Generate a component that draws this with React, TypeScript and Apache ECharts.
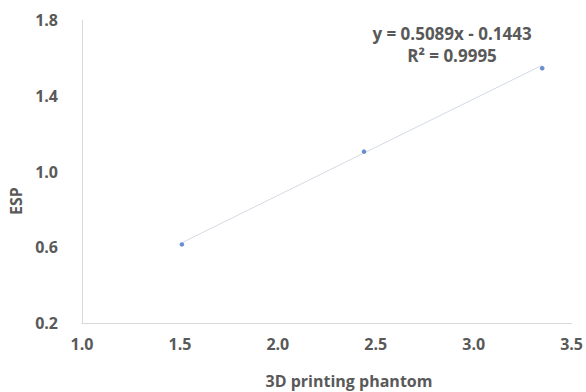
import React, { useEffect, useRef } from "react";
import * as echarts from "echarts";

const pointsX = [1.51, 2.44, 3.35];
const pointsY = [0.615, 1.105, 1.545];
const trendX = [1.51, 3.35];
const trendY = [0.624, 1.561];
const equationLines = ["y = 0.5089x - 0.1443", "R² = 0.9995"];
const xTicks = [1.0, 1.5, 2.0, 2.5, 3.0, 3.5];
const yTicks = [0.2, 0.6, 1.0, 1.4, 1.8];
const xTitle = "3D printing phantom";
const yTitle = "ESP";

const TEXT = "#595959";
const FONT = "'Open Sans', sans-serif";

export default function App() {
  const ref = useRef<HTMLDivElement>(null);
  useEffect(() => {
    if (!ref.current) return;
    const chart = echarts.init(ref.current, null, { renderer: "svg" });
    chart.setOption({
      animation: false,
      backgroundColor: "#ffffff",
      grid: { left: 82, right: 14, top: 20, bottom: 69 },
      xAxis: {
        type: "value",
        min: xTicks[0],
        max: xTicks[xTicks.length - 1],
        interval: 0.5,
        axisLine: { show: true, lineStyle: { color: "#d9d9d9", width: 1 } },
        axisTick: { show: false },
        splitLine: { show: false },
        axisLabel: {
          color: TEXT,
          fontFamily: FONT,
          fontWeight: "bold",
          fontSize: 16,
          margin: 13,
          formatter: (v: number) => v.toFixed(1),
        },
      },
      yAxis: {
        type: "value",
        min: yTicks[0],
        max: yTicks[yTicks.length - 1],
        interval: 0.2,
        axisLine: { show: true, lineStyle: { color: "#d9d9d9", width: 1 } },
        axisTick: { show: false },
        splitLine: { show: false },
        axisLabel: {
          color: TEXT,
          fontFamily: FONT,
          fontWeight: "bold",
          fontSize: 16,
          margin: 24,
          formatter: (v: number) =>
            yTicks.some((t) => Math.abs(t - v) < 1e-6) ? v.toFixed(1) : "",
        },
      },
      graphic: [
        {
          type: "text",
          rotation: Math.PI / 2,
          x: 16,
          y: 201,
          style: {
            text: yTitle,
            fill: TEXT,
            font: `bold 16px ${FONT}`,
            textAlign: "center",
            textVerticalAlign: "middle",
          },
        },
        {
          type: "text",
          x: 349,
          y: 381,
          style: {
            text: xTitle,
            fill: TEXT,
            font: `bold 16px ${FONT}`,
            textAlign: "center",
            textVerticalAlign: "middle",
          },
        },
        {
          type: "text",
          x: 452,
          y: 33,
          style: {
            text: equationLines[0],
            fill: TEXT,
            font: `bold 17px ${FONT}`,
            textAlign: "center",
            textVerticalAlign: "middle",
          },
        },
        {
          type: "text",
          x: 452,
          y: 55,
          style: {
            text: equationLines[1],
            fill: TEXT,
            font: `bold 17px ${FONT}`,
            textAlign: "center",
            textVerticalAlign: "middle",
          },
        },
      ],
      series: [
        {
          type: "line",
          data: trendX.map((x, i) => [x, trendY[i]]),
          showSymbol: false,
          symbol: "none",
          lineStyle: { color: "#d5dae2", width: 1 },
          silent: true,
          z: 1,
        },
        {
          type: "scatter",
          data: pointsX.map((x, i) => [x, pointsY[i]]),
          symbolSize: 4.5,
          itemStyle: { color: "#4472c4" },
          z: 2,
        },
      ],
    });
    return () => chart.dispose();
  }, []);
  return (
    <div
      ref={ref}
      style={{ position: "fixed", left: 0, top: 0, width: 586, height: 392 }}
    />
  );
}
